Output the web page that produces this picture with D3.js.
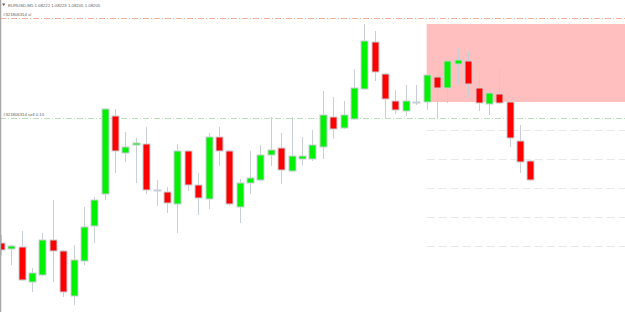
<!DOCTYPE html>
<html lang="en">
<head>
<meta charset="utf-8">
<script src="https://cdn.jsdelivr.net/npm/d3@7"></script>
<title>EURUSD M5</title>
<style>
  body { margin: 0; background: #fff; }
  svg { display: block; font-family: "Liberation Sans", sans-serif; }
  .wick { stroke: #c7ced6; stroke-width: 1; }
  .body { stroke: #c7ced6; stroke-width: 1; }
  .lbl { font-size: 4.3px; fill: #606060; }
</style>
</head>
<body>
<div id="chart"></div>
<script>
// candles, oldest first
var opens = [1.08079,1.08067,1.08071,1.08001,1.08015,1.08085,1.08063,1.07973,1.08043,1.08113,
  1.08177,1.08333,1.08259,1.08275,1.08277,1.08185,1.08181,1.08157,1.08263,1.08195,
  1.08167,1.08291,1.08263,1.08151,1.08199,1.08205,1.08255,1.08269,1.08223,1.08247,
  1.08247,1.08271,1.08331,1.08309,1.08327,1.08387,1.08481,1.08417,1.08363,1.08343,
  1.08359,1.08361,1.08411,1.08389,1.08437,1.08443,1.08389,1.08357,1.08377,1.08361,
  1.08283,1.08243];
var highs = [1.08095,1.08075,1.08103,1.08029,1.08099,1.08165,1.08065,1.08075,1.08151,1.08171,
  1.08349,1.08347,1.08301,1.08289,1.08311,1.08205,1.08191,1.08277,1.08265,1.08219,
  1.08299,1.08311,1.08265,1.08207,1.08263,1.08275,1.08331,1.08299,1.08331,1.08291,
  1.08305,1.08383,1.08371,1.08363,1.08427,1.08517,1.08503,1.08419,1.08385,1.08395,
  1.08395,1.08415,1.08413,1.08445,1.08469,1.08463,1.08419,1.08383,1.08429,1.08363,
  1.08315,1.08245];
var lows = [1.08055,1.08035,1.08003,1.07981,1.08013,1.08001,1.07971,1.07955,1.08035,1.08079,
  1.08165,1.08219,1.08241,1.08199,1.08177,1.08153,1.08139,1.08099,1.08183,1.08135,
  1.08147,1.08233,1.08153,1.08119,1.08177,1.08203,1.08233,1.08197,1.08221,1.08235,
  1.08243,1.08247,1.08287,1.08307,1.08325,1.08385,1.08403,1.08329,1.08337,1.08333,
  1.08355,1.08345,1.08329,1.08359,1.08395,1.08371,1.08343,1.08335,1.08357,1.08271,
  1.08219,1.08203];
var closes = [1.08065,1.08073,1.08005,1.08019,1.08085,1.08063,1.07981,1.08045,1.08111,1.08165,
  1.08347,1.08263,1.08271,1.08279,1.08185,1.08183,1.08159,1.08263,1.08195,1.08169,
  1.08291,1.08263,1.08157,1.08199,1.08209,1.08255,1.08265,1.08225,1.08253,1.08253,
  1.08275,1.08335,1.08307,1.08335,1.08389,1.08483,1.08421,1.08367,1.08345,1.08363,
  1.08361,1.08415,1.08389,1.08443,1.08445,1.08397,1.08359,1.08379,1.08359,1.08289,
  1.08241,1.08205];

var title = "EURUSD,M5  1.08222 1.08223 1.08205 1.08205";
var slLevel = 1.08530, slLabel = "#321806314 sl";
var entryLevel = 1.08330, entryLabel = "#321806314 sell 0.10";
var zoneLow = 1.08361, zoneHigh = 1.08517, zoneStart = 41;
var gridLevels = [1.08305, 1.08247, 1.08189, 1.08131, 1.08073];

var width = 625, height = 312;

var x = d3.scaleLinear().domain([0, 60]).range([0.85, 623.95]);
var y = d3.scaleLinear().domain([1.08565, 1.07941]).range([0, 312]);

var candles = opens.map(function(o, i) {
  return {i: i, o: o, h: highs[i], l: lows[i], c: closes[i]};
});

var svg = d3.select("#chart").append("svg")
  .attr("width", width)
  .attr("height", height);

// sell zone
svg.append("rect")
  .attr("x", x(zoneStart))
  .attr("y", y(zoneHigh))
  .attr("width", width - x(zoneStart))
  .attr("height", y(zoneLow) - y(zoneHigh))
  .attr("fill", "#ffbfbf");

// dashed levels under the zone
svg.selectAll(".grid")
  .data(gridLevels)
  .enter().append("line")
  .attr("class", "grid")
  .attr("x1", x(zoneStart)).attr("x2", width)
  .attr("y1", function(d) { return Math.round(y(d)) + 0.5; })
  .attr("y2", function(d) { return Math.round(y(d)) + 0.5; })
  .attr("stroke", "#e8e8e8")
  .attr("stroke-dasharray", "8,4");

// order lines
svg.append("line")
  .attr("x1", 0).attr("x2", width)
  .attr("y1", Math.round(y(slLevel)) + 0.5).attr("y2", Math.round(y(slLevel)) + 0.5)
  .attr("stroke", "#f5b19a")
  .attr("stroke-dasharray", "6,2,1,2");

svg.append("line")
  .attr("x1", 0).attr("x2", width)
  .attr("y1", Math.round(y(entryLevel)) + 0.5).attr("y2", Math.round(y(entryLevel)) + 0.5)
  .attr("stroke", "#bcdfbc")
  .attr("stroke-dasharray", "6,2,1,2");

// wicks
svg.selectAll(".wick")
  .data(candles)
  .enter().append("line")
  .attr("class", "wick")
  .attr("x1", function(d) { return Math.round(x(d.i)) + 0.5; })
  .attr("x2", function(d) { return Math.round(x(d.i)) + 0.5; })
  .attr("y1", function(d) { return y(d.h); })
  .attr("y2", function(d) { return y(d.l); });

// bodies
svg.selectAll(".body")
  .data(candles)
  .enter().append("rect")
  .attr("class", "body")
  .attr("x", function(d) { return Math.round(x(d.i)) - 3; })
  .attr("width", 7)
  .attr("y", function(d) { return y(Math.max(d.o, d.c)); })
  .attr("height", function(d) { return Math.max(1, Math.abs(y(d.o) - y(d.c))); })
  .attr("fill", function(d) { return d.c >= d.o ? "#00f200" : "#ff0000"; });

// left border
svg.append("line")
  .attr("x1", 0.5).attr("x2", 0.5)
  .attr("y1", 0).attr("y2", height)
  .attr("stroke", "#a8a8a8")
  .attr("stroke-width", 1.5);

// labels
svg.append("path")
  .attr("d", "M2,3.5 L5.5,3.5 L3.75,6 Z")
  .attr("fill", "#606060");

svg.append("text").attr("class", "lbl")
  .attr("x", 8).attr("y", 6.5)
  .text(title);

svg.append("text").attr("class", "lbl")
  .attr("x", 3).attr("y", y(slLevel) - 1.5)
  .text(slLabel);

svg.append("text").attr("class", "lbl")
  .attr("x", 3).attr("y", y(entryLevel) - 1.5)
  .text(entryLabel);
</script>
</body>
</html>
